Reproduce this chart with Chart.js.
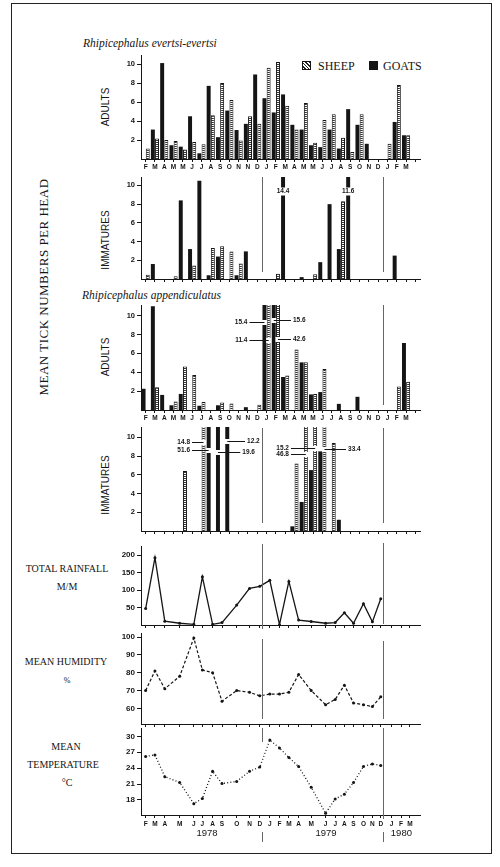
<!DOCTYPE html>
<html><head><meta charset="utf-8">
<script src="https://cdn.jsdelivr.net/npm/chart.js@4.4.1/dist/chart.umd.min.js"></script>
<style>
html,body{margin:0;padding:0;background:#fff}
#page{position:relative;width:500px;height:867px;overflow:hidden;background:#fff;color:#151515}
#frame{position:absolute;left:11px;top:3px;width:481px;height:851px;border:1.5px solid #222;box-sizing:border-box}
canvas{position:absolute}
.t{position:absolute;white-space:nowrap;line-height:1}
.serif{font-family:"Liberation Serif","Times New Roman",serif}
.sans{font-family:"Liberation Sans",Arial,sans-serif}
.rot{transform:translate(-50%,-50%) rotate(-90deg)}
.c{transform:translate(-50%,-50%)}
.box{position:absolute;width:9px;height:9px;box-sizing:border-box;border:1px solid #151515}
</style></head>
<body><div id="page">
<div id="frame"></div>
<div class="t serif" style="left:83px;top:38px;font-style:italic;font-size:11.5px">Rhipicephalus evertsi-evertsi</div>
<div class="t serif" style="left:82px;top:290px;font-style:italic;font-size:11.5px">Rhipicephalus appendiculatus</div>
<div class="box" style="left:302px;top:61px;background:repeating-linear-gradient(45deg,#fff 0 1.3px,#222 1.3px 2.4px)"></div>
<div class="t serif" style="left:318px;top:60px;font-size:12px">SHEEP</div>
<div class="box" style="left:369px;top:61px;background:#151515"></div>
<div class="t serif" style="left:383px;top:60px;font-size:12px">GOATS</div>
<div class="t serif rot" style="left:43px;top:287px;font-size:13px;letter-spacing:0.5px">MEAN TICK NUMBERS PER HEAD</div>
<div class="t sans rot" style="left:106px;top:107px;font-size:10px">ADULTS</div>
<div class="t sans rot" style="left:106px;top:240px;font-size:10px">IMMATURES</div>
<div class="t sans rot" style="left:106px;top:357px;font-size:10px">ADULTS</div>
<div class="t sans rot" style="left:106px;top:485px;font-size:10px">IMMATURES</div>
<div class="t serif c" style="left:67px;top:569px;font-size:10px">TOTAL RAINFALL</div>
<div class="t serif c" style="left:67px;top:587px;font-size:10px">M/M</div>
<div class="t serif c" style="left:66px;top:662px;font-size:10px">MEAN HUMIDITY</div>
<div class="t serif c" style="left:67px;top:681px;font-size:8px">%</div>
<div class="t serif c" style="left:66px;top:747px;font-size:10px">MEAN</div>
<div class="t serif c" style="left:63px;top:765px;font-size:10px">TEMPERATURE</div>
<div class="t serif c" style="left:67px;top:783px;font-size:10px">°C</div>
</div>
<script>
// ---------------- DATA ----------------
const N = null;
const sampleLabels = ['F','M','A','M','M','J','J','A','S','O','N','N','D','J','F','M','A','M','M','J','J','A','S','O','N','D','J','F','M',''];
const yearBreaks = [12.5, 25.5];
const barTicks = [2, 4, 6, 8, 10];

// Rhipicephalus evertsi-evertsi, adults
const evAdultGoats = [N,3.1,10.1,1.45,1.3,4.5,0.6,7.7,2.3,5.1,3.05,3.7,8.9,6.4,4.9,6.8,3.6,3.1,1.45,1.25,3.1,1.1,5.25,3.6,1.6,N,N,3.9,2.5,N];
const evAdultSheep = [1.1,2.15,2.0,1.9,1.0,1.8,1.55,4.6,8.0,6.2,1.95,4.5,3.7,9.6,10.2,5.6,3.1,5.9,1.7,4.1,4.7,2.25,0.75,4.7,N,N,1.6,7.8,2.5,N];
// Rhipicephalus evertsi-evertsi, immatures
const evImmGoats = [N,1.6,N,N,8.4,3.2,10.5,0.4,2.4,N,0.4,2.95,N,N,N,14.4,N,0.2,N,1.8,8.0,3.2,11.6,N,N,N,N,2.5,N,N];
const evImmSheep = [0.45,N,N,0.3,N,1.45,N,3.3,3.5,2.95,1.65,N,N,N,0.55,N,N,N,0.5,N,N,8.3,N,N,N,N,N,N,N,N];
// Rhipicephalus appendiculatus, adults
const apAdultGoats = [2.25,11.0,1.6,0.5,1.7,N,0.45,N,0.5,N,N,0.3,N,15.4,15.6,3.5,N,5.05,1.65,1.9,N,0.65,N,1.4,N,N,N,N,7.1,N];
const apAdultSheep = [N,2.4,N,0.9,4.6,3.7,0.85,N,0.8,0.7,N,N,0.55,11.4,42.6,3.65,6.4,5.05,1.7,4.35,N,N,N,N,N,N,N,2.5,3.0,N];
// Rhipicephalus appendiculatus, immatures
const apImmGoats = [N,N,N,N,N,N,N,51.6,19.6,12.2,N,N,N,N,N,N,0.5,3.1,6.5,8.5,N,1.2,N,N,N,N,N,N,N,N];
const apImmSheep = [N,N,N,N,6.4,N,14.8,N,N,N,N,N,N,N,N,N,7.2,46.8,15.2,33.4,9.4,N,N,N,N,N,N,N,N,N];

// Climate (monthly, Feb 1978 - Dec 1979) on the same sampling axis
const climMonths = ['F','M','A','M','J','J','A','S','O','N','D','J','F','M','A','M','J','J','A','S','O','N','D','J','F','M'];
const climMonthPos = [0,1,2.06,3.66,5.18,6.1,7.2,8.21,9.79,11.17,12.27,13.35,14.39,15.4,16.45,17.8,19.35,20.38,21.37,22.35,23.42,24.38,25.28,26.45,27.46,28.42];
const rainfall    = [47,193,11,5,2,138,2,7,57,105,111,128,1,125,14,10,5,7,35,5,61,9,75];
const humidity    = [70,81,71,78,99.5,81.5,80,64,70,69,67,68,68,69,79,70,62,65,73,63,62,61,66.5];
const temperature = [26.2,26.5,22.4,21.3,17.3,18.3,23.4,21.1,21.5,23.4,24.2,29.3,27.8,26.0,24.3,20.4,15.5,18.2,19.1,21.3,24.3,24.8,24.5];
const rainTicks = [50,100,150,200];
const humTicks = [60,70,80,90,100];
const tempTicks = [18,21,24,27,30];
const years = ['1978','1979','1980'];
const yearLabelPos = [6.6, 19.4, 27.5];

// ---------------- STYLE / HELPERS ----------------
const INK = '#151515';
Chart.defaults.font.family = '"Liberation Sans", Arial, sans-serif';
Chart.defaults.color = INK;
const page = document.getElementById('page');

function hatch() {
  const c = document.createElement('canvas'); c.width = 4; c.height = 2;
  const g = c.getContext('2d');
  g.fillStyle = '#fff'; g.fillRect(0, 0, 4, 2);
  g.fillStyle = '#333'; g.fillRect(0, 1, 4, 1);
  return g.createPattern(c, 'repeat');
}
const HATCH = hatch();

function makeCanvas(top, plotH, axisH) {
  const c = document.createElement('canvas');
  const h = plotH + axisH;
  c.width = 330; c.height = h;
  c.style.left = '100px'; c.style.top = top + 'px';
  c.style.width = '330px'; c.style.height = h + 'px';
  page.appendChild(c);
  return c;
}

function yAxis(min, max, ticks, size) {
  return {
    min, max,
    afterBuildTicks: s => { s.ticks = ticks.map(v => ({value: v})); },
    ticks: {font: {size, weight: 'bold'}, color: INK, padding: 2},
    grid: {drawOnChartArea: false, drawTicks: true, tickLength: 4, color: INK, lineWidth: 1},
    border: {display: true, color: INK, width: 1},
    afterFit: s => { s.width = 41; s.paddingTop = 0; s.paddingBottom = 0; }
  };
}
function catAxis(show, axisH) {
  return {
    type: 'category', offset: true,
    grid: {offset: false, drawOnChartArea: false, drawTicks: true, tickLength: 3, color: INK},
    border: {display: true, color: INK, width: 1},
    ticks: {display: show, autoSkip: false, maxRotation: 0, minRotation: 0, padding: 1, font: {size: 6.5, weight: 'bold'}, color: INK},
    afterFit: s => { s.height = axisH; s.paddingLeft = 0; s.paddingRight = 0; }
  };
}
function linAxis(show, axisH) {
  return {
    type: 'linear', min: -0.5, max: 29.5,
    afterBuildTicks: s => { s.ticks = climMonthPos.map(v => ({value: v})); },
    grid: {drawOnChartArea: false, drawTicks: true, tickLength: 3, color: INK},
    border: {display: true, color: INK, width: 1},
    ticks: {display: show, autoSkip: false, maxRotation: 0, minRotation: 0, padding: 2, font: {size: 6.5, weight: 'bold'}, color: INK,
            callback: (v, i) => climMonths[i]},
    afterFit: s => { s.height = axisH; s.paddingLeft = 0; s.paddingRight = 0; }
  };
}

const yearLines = {
  id: 'yearLines',
  afterDraw(chart, args, o) {
    if (!o || !o.segs) return;
    const {ctx, chartArea: a, scales: {x}} = chart;
    ctx.save(); ctx.strokeStyle = '#666'; ctx.lineWidth = 1;
    yearBreaks.forEach((b, k) => {
      const px = Math.round(x.getPixelForValue(b)) + 0.5;
      (o.segs[k] || []).forEach(([t0, t1]) => {
        ctx.beginPath(); ctx.moveTo(px, a.top + t0); ctx.lineTo(px, a.top + t1); ctx.stroke();
      });
    });
    ctx.restore();
  }
};

const offscale = {
  id: 'offscale',
  afterDatasetsDraw(chart, args, o) {
    if (!o || !o.items) return;
    const {ctx, scales: {x, y}} = chart;
    ctx.save();
    ctx.font = 'bold 6.5px "Liberation Sans", Arial, sans-serif';
    ctx.textBaseline = 'middle';
    o.items.forEach(it => {
      const bar = chart.getDatasetMeta(it.ds).data[it.idx];
      const val = chart.data.datasets[it.ds].data[it.idx];
      const txt = String(val);
      const yp = Math.round(y.getPixelForValue(it.y)) + 0.5;
      const bw = bar.width;
      if (it.side === 'center') {
        const w = ctx.measureText(txt).width + 2;
        ctx.fillStyle = '#fff'; ctx.fillRect(bar.x - w / 2, yp - 4, w, 8);
        ctx.fillStyle = INK; ctx.textAlign = 'center'; ctx.fillText(txt, bar.x, yp);
        return;
      }
      ctx.fillStyle = '#fff'; ctx.fillRect(bar.x - bw / 2 - 0.5, yp - 2.5, bw + 1, 5);
      const tx = x.getPixelForValue(it.tx);
      ctx.strokeStyle = INK; ctx.lineWidth = 1; ctx.fillStyle = INK;
      ctx.beginPath();
      if (it.side === 'left') {
        ctx.moveTo(tx + 2, yp); ctx.lineTo(bar.x, yp); ctx.stroke();
        ctx.textAlign = 'right'; ctx.fillText(txt, tx, yp);
      } else {
        ctx.moveTo(bar.x, yp); ctx.lineTo(tx - 2, yp); ctx.stroke();
        ctx.textAlign = 'left'; ctx.fillText(txt, tx, yp);
      }
    });
    ctx.restore();
  }
};

function barPanel(top, plotH, axisH, goats, sheep, yMax, showLabels, segs, items) {
  const c = makeCanvas(top, plotH, axisH);
  return new Chart(c, {
    type: 'bar',
    data: {
      labels: sampleLabels,
      datasets: [
        {label: 'GOATS', data: goats, backgroundColor: INK, borderWidth: 0, clip: 0,
         categoryPercentage: 0.9, barPercentage: 0.95},
        {label: 'SHEEP', data: sheep, backgroundColor: HATCH, borderColor: INK, clip: 0,
         borderWidth: {top: 1, left: 1, right: 1, bottom: 0}, borderSkipped: false,
         categoryPercentage: 0.9, barPercentage: 0.95}
      ]
    },
    options: {
      responsive: false, animation: false, events: [],
      layout: {padding: {left: 0, right: 10, top: 0, bottom: 0}},
      plugins: {legend: {display: false}, tooltip: {enabled: false},
                yearLines: {segs}, offscale: {items}},
      scales: {x: catAxis(showLabels, axisH), y: yAxis(0, yMax, barTicks, 7.5)}
    },
    plugins: [yearLines, offscale]
  });
}

function linePanel(top, plotH, axisH, values, yMin, yMax, ticks, dash, width, showLabels, segs) {
  const c = makeCanvas(top, plotH, axisH);
  return new Chart(c, {
    type: 'line',
    data: {datasets: [{
      data: values.map((v, i) => ({x: climMonthPos[i], y: v})),
      borderColor: INK, borderWidth: width, borderDash: dash, tension: 0,
      pointRadius: 1.5, pointBackgroundColor: INK, pointBorderWidth: 0
    }]},
    options: {
      responsive: false, animation: false, events: [],
      layout: {padding: {left: 0, right: 10, top: 0, bottom: 0}},
      plugins: {legend: {display: false}, tooltip: {enabled: false}, yearLines: {segs}},
      scales: {x: linAxis(showLabels, axisH), y: yAxis(yMin, yMax, ticks, 8)}
    },
    plugins: [yearLines]
  });
}

// ---------------- PANELS ----------------
barPanel(55, 104, 14, evAdultGoats, evAdultSheep, 10.95, true, [[], []], []);
barPanel(177, 102, 6, evImmGoats, evImmSheep, 10.9, false, [[[-4, 95]], [[-4, 95]]],
  [{ds: 0, idx: 15, side: 'center', y: 9.36}, {ds: 0, idx: 22, side: 'center', y: 9.36}]);
barPanel(305, 105, 14, apAdultGoats, apAdultSheep, 11.13, true, [[[-15, 0]], [[-10, 100]]],
  [{ds: 0, idx: 13, side: 'left', y: 9.3, tx: 10.95}, {ds: 1, idx: 13, side: 'left', y: 7.45, tx: 10.95},
   {ds: 0, idx: 14, side: 'right', y: 9.5, tx: 15.84}, {ds: 1, idx: 14, side: 'right', y: 7.5, tx: 15.84}]);
barPanel(427, 104, 6, apImmGoats, apImmSheep, 11.1, false, [[[1, 96]], [[1, 96]]],
  [{ds: 1, idx: 6, side: 'left', y: 9.47, tx: 4.77}, {ds: 0, idx: 7, side: 'left', y: 8.64, tx: 4.77},
   {ds: 0, idx: 9, side: 'right', y: 9.6, tx: 10.9}, {ds: 0, idx: 8, side: 'right', y: 8.4, tx: 10.39},
   {ds: 1, idx: 18, side: 'left', y: 8.85, tx: 15.41}, {ds: 1, idx: 17, side: 'left', y: 8.25, tx: 15.41},
   {ds: 1, idx: 19, side: 'right', y: 8.7, tx: 21.76}]);

linePanel(542, 83, 4, rainfall, 0, 226.5, rainTicks, [], 1.3, false, [[[-2, 83]], [[-3, 78]]]);
linePanel(629, 95, 4, humidity, 51.2, 102.3, humTicks, [3, 2], 1.2, false, [[[6, 86]], [[8, 86]]]);
const tempChart = linePanel(724, 91, 27, temperature, 15.17, 31.57, tempTicks, [1, 2.2], 1.3, true,
  [[[0, 14], [104, 114]], [[0, 91], [104, 114]]]);

// year captions under the shared time axis
years.forEach((y, i) => {
  const d = document.createElement('div');
  d.className = 't sans c';
  d.style.fontSize = '9.5px';
  d.style.left = (100 + tempChart.scales.x.getPixelForValue(yearLabelPos[i])) + 'px';
  d.style.top = '833px';
  d.textContent = y;
  page.appendChild(d);
});
</script>
</body></html>
